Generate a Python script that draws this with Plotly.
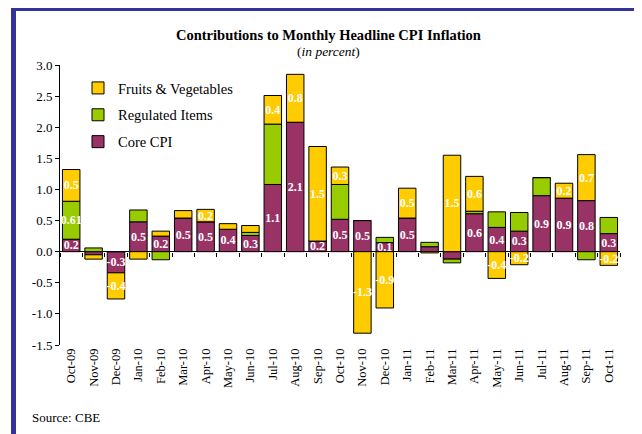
import plotly.graph_objects as go

categories = ["Oct-09", "Nov-09", "Dec-09", "Jan-10", "Feb-10", "Mar-10", "Apr-10", "May-10",
              "Jun-10", "Jul-10", "Aug-10", "Sep-10", "Oct-10", "Nov-10", "Dec-10", "Jan-11",
              "Feb-11", "Mar-11", "Apr-11", "May-11", "Jun-11", "Jul-11", "Aug-11", "Sep-11", "Oct-11"]

core = [0.20, -0.05, -0.34, 0.48, 0.25, 0.54, 0.48, 0.36, 0.26, 1.08, 2.08, 0.17, 0.52,
        0.50, 0.145, 0.54, 0.08, -0.12, 0.61, 0.39, 0.33, 0.90, 0.86, 0.82, 0.29]
regulated = [0.61, 0.06, 0.0, 0.19, -0.13, 0.0, 0.0, 0.0, 0.05, 0.97, 0.0, 0.0, 0.56,
             0.0, 0.085, 0.0, 0.07, -0.06, 0.04, 0.25, 0.30, 0.29, 0.0, -0.13, 0.26]
fruits = [0.51, -0.07, -0.42, -0.12, 0.08, 0.12, 0.20, 0.09, 0.11, 0.46, 0.77, 1.52, 0.28,
          -1.31, -0.905, 0.48, -0.02, 1.55, 0.56, -0.43, -0.21, 0.0, 0.24, 0.74, -0.22]

core_labels = ["0.2", "", "-0.3", "0.5", "0.2", "0.5", "0.5", "0.4", "0.3", "1.1", "2.1", "0.2", "0.5",
               "0.5", "0.1", "0.5", "", "", "0.6", "0.4", "0.3", "0.9", "0.9", "0.8", "0.3"]
regulated_labels = ["0.61", "", "", "", "", "", "", "", "", "", "", "", "",
                    "", "", "", "", "", "", "", "", "", "", "", ""]
fruits_labels = ["0.5", "", "-0.4", "", "", "", "0.2", "", "", "0.4", "0.8", "1.5", "0.3",
                 "-1.3", "-0.9", "0.5", "", "1.5", "0.6", "-0.4", "-0.2", "", "0.2", "0.7", "-0.2"]

y_ticks = [-1.5, -1.0, -0.5, 0.0, 0.5, 1.0, 1.5, 2.0, 2.5, 3.0]

SERIF = "Liberation Serif"
C_CORE = "#993366"
C_REG = "#99CC00"
C_FRUIT = "#FFCC00"
BLUE = "#333399"

fig = go.Figure()


def add_series(name, vals, labels, color, rank):
    fig.add_trace(go.Bar(
        x=categories, y=vals, name=name, text=labels,
        textposition="inside", insidetextanchor="middle", textangle=0,
        textfont=dict(family=SERIF, size=12, color="white", weight="bold"),
        marker=dict(color=color, line=dict(color="black", width=1)),
        legendgroup=name, legendrank=rank, hoverinfo="skip",
    ))


add_series("Core CPI", core, core_labels, C_CORE, 3)
add_series("Regulated Items", regulated, regulated_labels, C_REG, 2)
add_series("Fruits & Vegetables", fruits, fruits_labels, C_FRUIT, 1)

# helper trace to carry the zero-line tick axis
fig.add_trace(go.Scatter(
    x=categories, y=[0] * len(categories), xaxis="x2", mode="markers",
    marker=dict(opacity=0, size=1), showlegend=False, hoverinfo="skip",
))

# page body has an 8px margin; work in screen pixels and convert
OFF = 8
W, H = 642 - OFF, 434 - OFF
L = 60 - OFF
T = 65 - OFF
R = W - (620 - OFF)
B = H - (345 - OFF)
pw, ph = W - L - R, H - T - B


def px_x(p):
    return (p - OFF - L) / pw


def px_y(p):
    return (H - B - (p - OFF)) / ph


ymin, ymax = -1.5, 3.0

fig.update_layout(
    width=W, height=H,
    margin=dict(l=L, r=R, t=T, b=B),
    paper_bgcolor="white", plot_bgcolor="white",
    barmode="relative", bargap=0.22,
    font=dict(family=SERIF, size=12, color="black"),
    uniformtext=dict(minsize=12, mode="show"),
    showlegend=True,
    legend=dict(
        x=px_x(78), y=px_y(72), xanchor="left", yanchor="top",
        bgcolor="rgba(0,0,0,0)", borderwidth=0,
        font=dict(family=SERIF, size=14.5, color="black"),
        traceorder="grouped", tracegroupgap=5,
    ),
    xaxis=dict(
        type="category", range=[-0.5, len(categories) - 0.5],
        showline=False, ticks="", tickangle=-90,
        tickfont=dict(family=SERIF, size=12.5), showgrid=False, zeroline=False,
    ),
    xaxis2=dict(
        type="category", overlaying="x", anchor="free",
        position=(0 - ymin) / (ymax - ymin), side="bottom",
        range=[-0.5, len(categories) - 0.5],
        showline=False, showticklabels=False, ticks="outside",
        tickson="boundaries", ticklen=4, tickcolor="black", tickwidth=1,
        showgrid=False, zeroline=False,
    ),
    yaxis=dict(
        range=[ymin, ymax], tickmode="array", tickvals=y_ticks,
        ticktext=[f"{v:.1f}" for v in y_ticks],
        showline=True, linecolor="black", linewidth=1,
        ticks="outside", ticklen=4, tickcolor="black",
        tickfont=dict(family=SERIF, size=13),
        showgrid=False, zeroline=True, zerolinecolor="black", zerolinewidth=1,
    ),
    annotations=[
        dict(text="<b>Contributions to Monthly Headline CPI Inflation</b>",
             x=px_x(328), y=px_y(35), xref="paper", yref="paper",
             xanchor="center", yanchor="middle", showarrow=False,
             font=dict(family=SERIF, size=14.5)),
        dict(text="(<i>in percent</i>)",
             x=px_x(328), y=px_y(52), xref="paper", yref="paper",
             xanchor="center", yanchor="middle", showarrow=False,
             font=dict(family=SERIF, size=13.5)),
        dict(text="Source: CBE",
             x=px_x(30), y=px_y(417), xref="paper", yref="paper",
             xanchor="left", yanchor="middle", showarrow=False,
             font=dict(family=SERIF, size=13)),
    ],
    shapes=[
        dict(type="rect", xref="paper", yref="paper",
             x0=px_x(13.5), x1=px_x(639.5), y0=px_y(460), y1=px_y(8.5),
             line=dict(color=BLUE, width=5), fillcolor="rgba(0,0,0,0)", layer="above"),
    ],
)

fig.write_html("out.html")
